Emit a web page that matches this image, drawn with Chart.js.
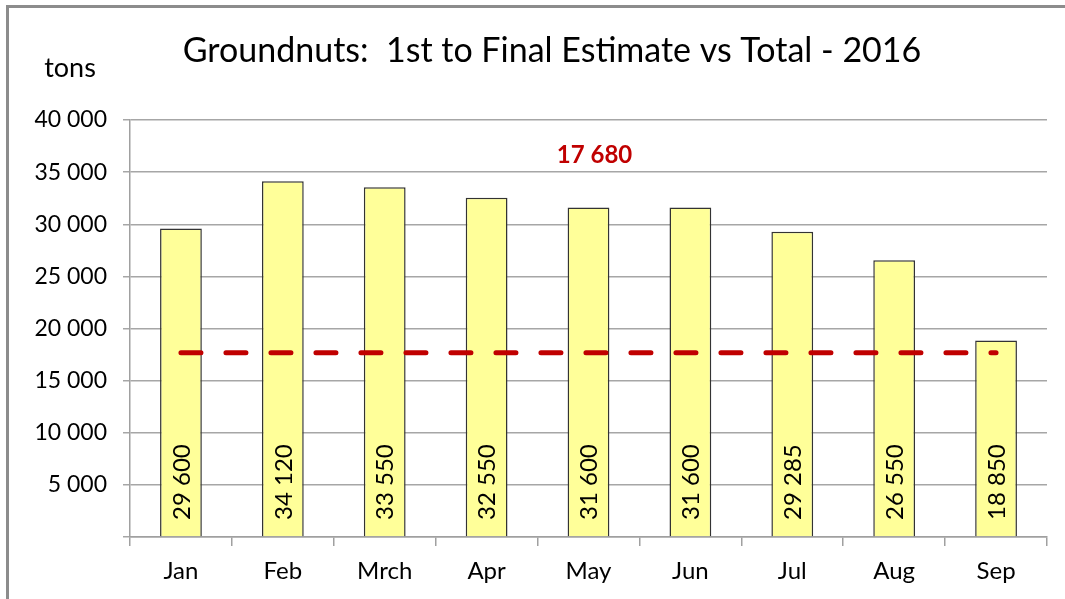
<!DOCTYPE html>
<html>
<head>
<meta charset="utf-8">
<script src="https://cdn.jsdelivr.net/npm/chart.js@4"></script>
<style>
  html, body { margin: 0; background: #fff; overflow: hidden; }
  canvas { display: block; }
</style>
</head>
<body>
<canvas id="myChart" width="1065" height="599"></canvas>
<script>
// les données
const months = ['Jan', 'Feb', 'Mrch', 'Apr', 'May', 'Jun', 'Jul', 'Aug', 'Sep'];
const estimates = [29600, 34120, 33550, 32550, 31600, 31600, 29285, 26550, 18850];
const finalTotal = 17680;
const totalLine = [17680, 17680, 17680, 17680, 17680, 17680, 17680, 17680, 17680];
const yTicks = [0, 5000, 10000, 15000, 20000, 25000, 30000, 35000, 40000];

const chartTitle = 'Groundnuts:  1st to Final Estimate vs Total - 2016';
const FONT = 'Lato, "Open Sans", sans-serif';

// nombre avec espace pour les milliers
function fmt(v) {
    return String(v).replace(/\B(?=(\d{3})+(?!\d))/g, ' ');
}

// cadre gris en haut et à gauche
const frame = {
    id: 'frame',
    beforeDraw(chart) {
        const ctx = chart.ctx;
        ctx.save();
        ctx.strokeStyle = '#8c8c8c';
        ctx.lineWidth = 3;
        ctx.beginPath();
        ctx.moveTo(7.5, 599);
        ctx.lineTo(7.5, 6.5);
        ctx.lineTo(1065, 6.5);
        ctx.stroke();
        ctx.restore();
    }
};

// textes en plus : titre, "tons", valeurs dans les barres, total en rouge
const extraText = {
    id: 'extraText',
    afterDatasetsDraw(chart) {
        const ctx = chart.ctx;
        const area = chart.chartArea;
        ctx.save();
        ctx.fillStyle = '#000';
        ctx.textAlign = 'center';
        ctx.textBaseline = 'middle';
        ctx.font = '34px ' + FONT;
        ctx.fillText(chartTitle, 552, 51);

        ctx.font = '27px ' + FONT;
        ctx.fillText('tons', 70, 68);

        // valeurs verticales
        const meta = chart.getDatasetMeta(1);
        ctx.font = '24px ' + FONT;
        meta.data.forEach((bar, i) => {
            ctx.save();
            ctx.translate(bar.x, area.bottom - 17);
            ctx.rotate(-Math.PI / 2);
            ctx.textAlign = 'left';
            ctx.textBaseline = 'middle';
            ctx.fillText(fmt(estimates[i]), 0, 1);
            ctx.restore();
        });

        // total
        const x = chart.scales.x.getPixelForValue(4);
        ctx.fillStyle = '#c00000';
        ctx.font = 'bold 24px ' + FONT;
        ctx.textAlign = 'center';
        ctx.fillText(fmt(finalTotal), x + 6, area.top + 35);
        ctx.restore();
    }
};

var ctx = document.getElementById('myChart').getContext('2d');
var myChart = new Chart(ctx, {
    type: 'bar',
    data: {
        labels: months,
        datasets: [{
            type: 'line',
            label: 'Total',
            data: totalLine,
            borderColor: '#c00000',
            borderWidth: 5,
            borderDash: [20, 25],
            borderCapStyle: 'round',
            pointRadius: 0,
            fill: false,
            order: 0
        }, {
            label: 'Estimate',
            data: estimates,
            backgroundColor: '#ffff99',
            borderColor: '#333333',
            borderWidth: 1.5,
            barPercentage: 0.41,
            categoryPercentage: 1,
            order: 1
        }]
    },
    options: {
        responsive: false,
        animation: false,
        layout: { padding: { left: 0, right: 18, top: 120, bottom: 0 } },
        plugins: {
            legend: { display: false },
            tooltip: { enabled: false },
            title: { display: false }
        },
        scales: {
            x: {
                grid: {
                    offset: true,
                    drawOnChartArea: false,
                    color: '#a0a0a0',
                    tickLength: 9,
                    lineWidth: 1.5
                },
                border: { color: '#a0a0a0', width: 1.5 },
                ticks: {
                    color: '#000',
                    font: { family: FONT, size: 24 },
                    padding: 11
                },
                afterFit: function(scale) { scale.height = 62; }
            },
            y: {
                min: 0,
                max: 40000,
                afterBuildTicks: function(scale) {
                    scale.ticks = yTicks.map(v => ({ value: v }));
                },
                grid: {
                    color: '#a6a6a6',
                    tickLength: 7,
                    lineWidth: 1.5
                },
                border: { color: '#a0a0a0', width: 1.5 },
                ticks: {
                    color: '#000',
                    font: { family: FONT, size: 23 },
                    padding: 16,
                    callback: function(v) { return v === 0 ? '' : fmt(v); }
                },
                afterFit: function(scale) { scale.width = 130; }
            }
        }
    },
    plugins: [frame, extraText]
});
</script>
</body>
</html>
